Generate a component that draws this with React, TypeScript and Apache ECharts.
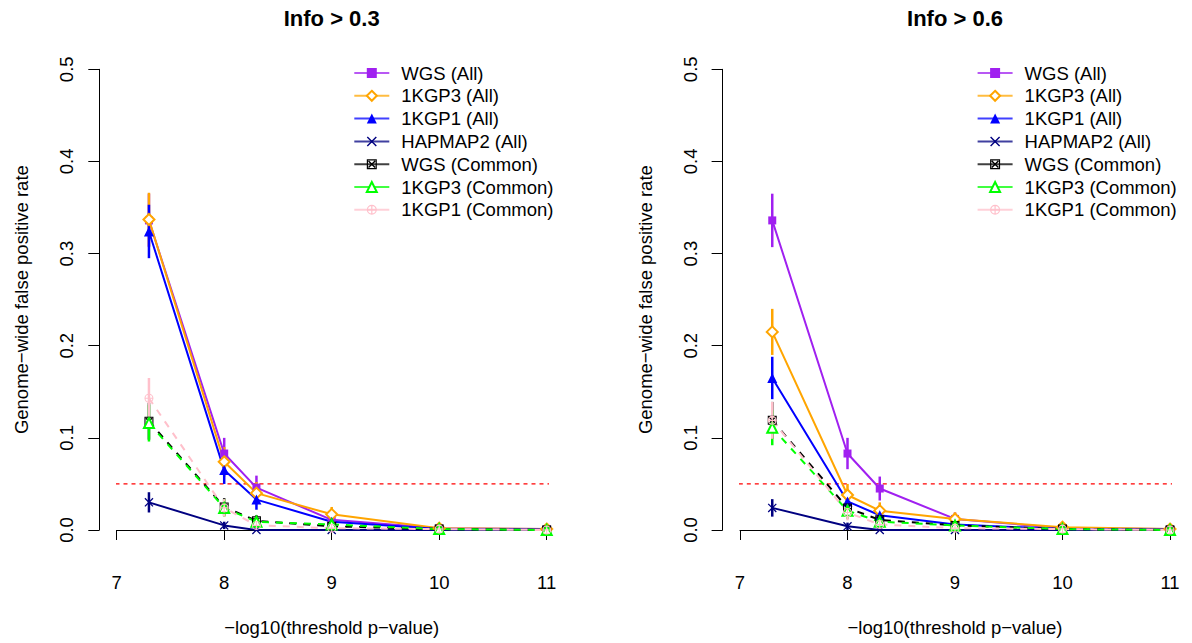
import React, { useEffect, useRef } from "react";
import * as echarts from "echarts";

// ---------- data ----------
const thresholds = [7.3, 8, 8.3, 9, 10, 11];
const seriesNames = [
  "WGS (All)",
  "1KGP3 (All)",
  "1KGP1 (All)",
  "HAPMAP2 (All)",
  "WGS (Common)",
  "1KGP3 (Common)",
  "1KGP1 (Common)",
];
const panelTitles = ["Info > 0.3", "Info > 0.6"];
const xAxisTitle = "\u2212log10(threshold p\u2212value)";
const yAxisTitle = "Genome\u2212wide false positive rate";
const fprThreshold = 0.05;

// Info > 0.3
const wgsAll03 = [0.336, 0.083, 0.046, 0.011, 0.002, 0.001];
const kgp3All03 = [0.337, 0.074, 0.04, 0.017, 0.002, 0.001];
const kgp1All03 = [0.324, 0.065, 0.033, 0.009, 0.001, 0.0005];
const hapmap2All03 = [0.03, 0.005, 0.0, 0.0, 0.0, 0.0];
const wgsCommon03 = [0.118, 0.025, 0.01, 0.004, 0.001, 0.0];
const kgp3Common03 = [0.116, 0.024, 0.009, 0.006, 0.001, 0.0];
const kgp1Common03 = [0.143, 0.024, 0.005, 0.002, 0.001, 0.0];

const wgsAll03Err = [0.029, 0.017, 0.013, 0.007, 0.003, 0.002];
const kgp3All03Err = [0.029, 0.016, 0.012, 0.008, 0.003, 0.002];
const kgp1All03Err = [0.029, 0.015, 0.011, 0.006, 0.002, 0.001];
const hapmap2All03Err = [0.011, 0.004, 0.0, 0.0, 0.0, 0.0];
const wgsCommon03Err = [0.02, 0.0095, 0.006, 0.004, 0.002, 0.0];
const kgp3Common03Err = [0.02, 0.0095, 0.006, 0.005, 0.002, 0.0];
const kgp1Common03Err = [0.022, 0.0095, 0.0045, 0.003, 0.002, 0.0];

// Info > 0.6
const wgsAll06 = [0.336, 0.083, 0.045, 0.012, 0.002, 0.001];
const kgp3All06 = [0.215, 0.038, 0.021, 0.012, 0.003, 0.001];
const kgp1All06 = [0.165, 0.031, 0.016, 0.006, 0.001, 0.0005];
const hapmap2All06 = [0.024, 0.004, 0.0, 0.0, 0.0, 0.0];
const wgsCommon06 = [0.119, 0.024, 0.011, 0.005, 0.001, 0.0];
const kgp3Common06 = [0.111, 0.021, 0.009, 0.005, 0.001, 0.0];
const kgp1Common06 = [0.119, 0.019, 0.006, 0.002, 0.001, 0.0];

const wgsAll06Err = [0.029, 0.017, 0.013, 0.007, 0.003, 0.002];
const kgp3All06Err = [0.025, 0.012, 0.009, 0.007, 0.003, 0.002];
const kgp1All06Err = [0.023, 0.011, 0.008, 0.005, 0.002, 0.001];
const hapmap2All06Err = [0.0095, 0.004, 0.0, 0.0, 0.0, 0.0];
const wgsCommon06Err = [0.02, 0.0095, 0.0065, 0.0045, 0.002, 0.0];
const kgp3Common06Err = [0.019, 0.009, 0.006, 0.0045, 0.002, 0.0];
const kgp1Common06Err = [0.02, 0.0085, 0.005, 0.003, 0.002, 0.0];

const panelValues = [
  [wgsAll03, kgp3All03, kgp1All03, hapmap2All03, wgsCommon03, kgp3Common03, kgp1Common03],
  [wgsAll06, kgp3All06, kgp1All06, hapmap2All06, wgsCommon06, kgp3Common06, kgp1Common06],
];
const panelErrors = [
  [wgsAll03Err, kgp3All03Err, kgp1All03Err, hapmap2All03Err, wgsCommon03Err, kgp3Common03Err, kgp1Common03Err],
  [wgsAll06Err, kgp3All06Err, kgp1All06Err, hapmap2All06Err, wgsCommon06Err, kgp3Common06Err, kgp1Common06Err],
];

// ---------- styles ----------
const FONT = "'Liberation Sans', Arial, Helvetica, sans-serif";
const X_SYMBOL = "path://M0,1L1,0L10,9L9,10ZM9,0L10,1L1,10L0,9Z";
const BOX_X_SYMBOL =
  "path://M0,0H10V10H0ZM1.2,1.2V8.8H8.8V1.2ZM1.2,2.2L2.2,1.2L8.8,7.8L7.8,8.8ZM7.8,1.2L8.8,2.2L2.2,8.8L1.2,7.8Z";
const CIRCLE_PLUS_SYMBOL =
  "path://M5,0A5,5 0 1,1 5,10A5,5 0 1,1 5,0ZM5,1.2A3.8,3.8 0 1,0 5,8.8A3.8,3.8 0 1,0 5,1.2ZM4.4,1.2H5.6V8.8H4.4ZM1.2,4.4H8.8V5.6H1.2Z";

const seriesStyles = [
  { color: "#A020F0", symbol: "rect", size: 8, dashed: false, empty: false },
  { color: "#FFA500", symbol: "emptyDiamond", size: 11, dashed: false, empty: true },
  { color: "#0000FF", symbol: "triangle", size: 10, dashed: false, empty: false },
  { color: "#000080", symbol: X_SYMBOL, size: 9, dashed: false, empty: false },
  { color: "#000000", symbol: BOX_X_SYMBOL, size: 9, dashed: true, empty: false },
  { color: "#00FF00", symbol: "emptyTriangle", size: 10, dashed: true, empty: true },
  { color: "#FFC0CB", symbol: CIRCLE_PLUS_SYMBOL, size: 9, dashed: true, empty: false },
];

// layout (pixels)
const panelLeft = [116.7, 740];
const panelWidth = 430;
const gridTop = 69.3;
const gridHeight = 460.7;
const xMin = 7;
const xMax = 11;
const yMin = 0;
const yMax = 0.5;
const pad = 0.04;

export default function App() {
  const ref = useRef<HTMLDivElement>(null);

  useEffect(() => {
    document.body.style.margin = "0";
    if (!ref.current) return;
    const chart = echarts.init(ref.current, undefined, { renderer: "svg" });

    const grids: any[] = [];
    const xAxes: any[] = [];
    const yAxes: any[] = [];
    const series: any[] = [];
    const legends: any[] = [];
    const graphics: any[] = [];

    panelTitles.forEach((title, p) => {
      grids.push({ left: panelLeft[p], top: gridTop, width: panelWidth, height: gridHeight });
      xAxes.push({
        gridIndex: p,
        type: "value",
        min: xMin,
        max: xMax,
        interval: 1,
        offset: 20,
        name: xAxisTitle,
        nameLocation: "middle",
        nameGap: 68,
        nameTextStyle: { fontSize: 18.5, fontFamily: FONT, color: "#000" },
        axisLine: { show: true, lineStyle: { color: "#000", width: 1 } },
        axisTick: { show: true, length: 10, lineStyle: { color: "#000", width: 1 } },
        axisLabel: { fontSize: 18.5, fontFamily: FONT, color: "#000", margin: 23 },
        splitLine: { show: false },
      });
      yAxes.push({
        gridIndex: p,
        type: "value",
        min: yMin,
        max: yMax,
        interval: 0.1,
        offset: 17.4,
        name: yAxisTitle,
        nameLocation: "middle",
        nameGap: 68,
        nameTextStyle: { fontSize: 18.5, fontFamily: FONT, color: "#000" },
        axisLine: { show: true, lineStyle: { color: "#000", width: 1 } },
        axisTick: { show: true, length: 11, lineStyle: { color: "#000", width: 1 } },
        axisLabel: {
          fontSize: 18.5,
          fontFamily: FONT,
          color: "#000",
          rotate: 90,
          margin: 23,
          formatter: (v: number) => v.toFixed(1),
        },
        splitLine: { show: false },
      });

      // reference threshold line across the whole plot region
      const xr = xMax - xMin;
      series.push({
        type: "line",
        name: "threshold" + p,
        xAxisIndex: p,
        yAxisIndex: p,
        data: [
          [xMin - pad * xr, fprThreshold],
          [xMax + pad * xr, fprThreshold],
        ],
        showSymbol: false,
        symbol: "none",
        clip: false,
        silent: true,
        lineStyle: { color: "#FF0000", width: 1.3, type: [4, 4] },
        z: 1,
      });

      seriesNames.forEach((name, i) => {
        const st = seriesStyles[i];
        const vals = panelValues[p][i];
        const errs = panelErrors[p][i];
        series.push({
          type: "line",
          name,
          xAxisIndex: p,
          yAxisIndex: p,
          data: thresholds.map((x, k) => [x, vals[k]]),
          symbol: st.symbol,
          symbolSize: st.size,
          showSymbol: true,
          clip: false,
          color: st.color,
          lineStyle: { color: st.color, width: 2, type: st.dashed ? [7, 7] : "solid" },
          itemStyle: st.empty
            ? { color: st.color, borderColor: st.color, borderWidth: 1.5 }
            : { color: st.color, borderWidth: 0 },
          emphasis: { disabled: true },
        });
        series.push({
          type: "custom",
          name: "err-" + p + "-" + i,
          xAxisIndex: p,
          yAxisIndex: p,
          clip: false,
          silent: true,
          encode: { x: 0, y: [1, 2] },
          data: thresholds.map((x, k) => [x, Math.max(0, vals[k] - errs[k]), vals[k] + errs[k]]),
          renderItem: (params: any, api: any) => {
            const x = api.value(0);
            const a = api.coord([x, api.value(1)]);
            const b = api.coord([x, api.value(2)]);
            return {
              type: "line",
              shape: { x1: a[0], y1: a[1], x2: b[0], y2: b[1] },
              style: { stroke: st.color, lineWidth: 2.5 },
            };
          },
        });
      });

      legends.push({
        data: seriesNames,
        orient: "vertical",
        left: panelLeft[p] + 231.6,
        top: 58.5,
        itemWidth: 35,
        itemHeight: 12.5,
        itemGap: 3.8,
        selectedMode: false,
        textStyle: { fontSize: 18.5, fontFamily: FONT, color: "#000", padding: [0, 0, 0, 7] },
        lineStyle: { type: "solid", width: 2, opacity: 0.75 },
      });

      graphics.push({
        type: "text",
        x: panelLeft[p] + panelWidth / 2,
        y: 18,
        style: {
          text: title,
          align: "center",
          verticalAlign: "middle",
          fill: "#000",
          font: "bold 22px " + FONT,
        },
      });
    });

    chart.setOption({
      animation: false,
      backgroundColor: "#fff",
      grid: grids,
      xAxis: xAxes,
      yAxis: yAxes,
      legend: legends,
      series,
      graphic: graphics,
    });

    return () => chart.dispose();
  }, []);

  return (
    <div
      ref={ref}
      style={{ position: "absolute", left: 0, top: 0, width: 1192, height: 643, background: "#fff" }}
    />
  );
}
